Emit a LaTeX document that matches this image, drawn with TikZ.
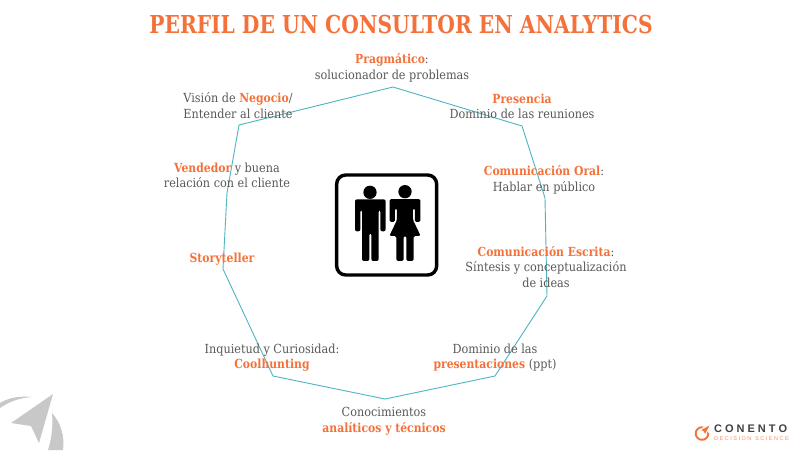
\documentclass[tikz,border=0pt]{standalone}
\usepackage{fontspec}
\setmainfont{DejaVu Serif}[FakeStretch=0.9,BoldFeatures={FakeStretch=0.865}]
\newfontfamily\ttlfont{DejaVu Serif}[FakeStretch=0.82,BoldFeatures={FakeStretch=0.82}]
\setsansfont{Liberation Sans}
\definecolor{orangetxt}{HTML}{F4723A}
\definecolor{greytxt}{HTML}{595959}
\definecolor{tealline}{HTML}{4DB5C2}
\definecolor{greyshape}{HTML}{C8C8C8}
\newcommand{\hl}[1]{\textbf{\textcolor{orangetxt}{#1}}}
\tikzset{
  lbl/.style={align=center,text=greytxt,font=\fontsize{12.5}{15.6}\selectfont,inner sep=0pt},
  ring/.style={draw=tealline,line width=0.9pt,line join=miter},
  glyph/.style={fill=black,draw=none},
}
\begin{document}
\begin{tikzpicture}[x=1pt,y=-1pt]
\useasboundingbox (0,0) rectangle (800,450);
\fill[white] (0,0) rectangle (800,450);
% background mark
\fill[greyshape] (53,394) -- (11,423) -- (31,426) -- (39,443) -- cycle;
\fill[greyshape] (0,403) .. controls (10,397) and (20,396) .. (32,397) .. controls (18,398) and (9,402) .. (0,408) -- cycle;
\fill[greyshape] (52,413) .. controls (60,422) and (65,435) .. (63,450) -- (48,450) .. controls (52,438) and (53,425) .. (52,413) -- cycle;
% ring
\coordinate (v1) at (393,87);
\coordinate (v2) at (522,126);
\coordinate (v3) at (545,198);
\coordinate (v4) at (547,296);
\coordinate (v5) at (495,376);
\coordinate (v6) at (385,399);
\coordinate (v7) at (273,376);
\coordinate (v8) at (223,269);
\coordinate (v9) at (227,193);
\coordinate (v10) at (239,125);
\draw[ring] (v1) -- (v2) -- (v3) -- (v4) -- (v5) -- (v6) -- (v7) -- (v8) -- (v9) -- (v10) -- cycle;
% title
\node[inner sep=0pt,text=orangetxt,font=\ttlfont\fontsize{24.7}{26}\bfseries\selectfont] (title) at (401,24.5) {PERFIL DE UN CONSULTOR EN ANALYTICS};
% labels
\node[lbl] (a) at (392,67.5) {\hl{Pragmático}:\\solucionador de problemas};
\node[lbl] (b) at (522,106.5) {\hl{Presencia}\\Dominio de las reuniones};
\node[lbl] (c) at (544,179.5) {\hl{Comunicación Oral}:\\Hablar en público};
\node[lbl] (d) at (546,267) {\hl{Comunicación Escrita}:\\Síntesis y conceptualización\\de ideas};
\node[lbl] (e) at (495,357.5) {Dominio de las\\\hl{presentaciones} (ppt)};
\node[lbl] (f) at (384,421) {Conocimientos\\\hl{analíticos y técnicos}};
\node[lbl] (g) at (272,357.5) {Inquietud y Curiosidad:\\\hl{Coolhunting}};
\node[lbl] (h) at (222,259) {\hl{Storyteller}};
\node[lbl] (i) at (227,175.5) {\hl{Vendedor} y buena\\relación con el cliente};
\node[lbl] (j) at (238,105.5) {Visión de \hl{Negocio}/\\Entender al cliente};
% icon
\begin{scope}[shift={(325,165)},x=0.3333pt,y=-0.3333pt]
  \draw[line width=3.4pt,rounded corners=9pt] (35,30) rectangle (335,330);
  \fill[glyph] (135,82) circle[radius=20];
  \fill[glyph,rounded corners=2pt] (90,199) -- (90,103) -- (182,103) -- (182,199) -- (166,199) -- (166,135) -- (161,135) -- (161,288) -- (139,288) -- (139,205) -- (133,205) -- (133,288) -- (111,288) -- (111,135) -- (106,135) -- (106,199) -- cycle;
  \fill[glyph] (240,80) circle[radius=20];
  \fill[glyph,rounded corners=1.5pt] (194,171) -- (194,102) -- (286,102) -- (286,171) -- (270,171) -- (270,130) -- (264,130) -- (264,165) -- (287,213) -- (266,213) -- (266,288) -- (244,288) -- (244,213) -- (236,213) -- (236,288) -- (214,288) -- (214,213) -- (193,213) -- (216,165) -- (216,130) -- (210,130) -- (210,171) -- cycle;
\end{scope}
% logo
\draw[orangetxt,line width=1.9pt] (702,433.5) circle[radius=6.3];
\fill[white] (702,427) -- (711,424) -- (709,433) -- cycle;
\fill[orangetxt] (709.5,425.5) -- (701.5,430) -- (704,431.5) -- (705,434) -- cycle;
\node[inner sep=0pt,anchor=west,font=\sffamily\fontsize{11}{12}\selectfont\bfseries,text=black!75] (logoa) at (714,429) {C\kern3pt O\kern3pt N\kern3pt E\kern3pt N\kern3pt T\kern3pt O};
\node[inner sep=0pt,anchor=west,font=\sffamily\fontsize{5.5}{6}\selectfont,text=orangetxt!80] (logob) at (714,438.5) {D\kern1.5pt E\kern1.5pt C\kern1.5pt I\kern1.5pt S\kern1.5pt I\kern1.5pt O\kern1.5pt N\kern4pt S\kern1.5pt C\kern1.5pt I\kern1.5pt E\kern1.5pt N\kern1.5pt C\kern1.5pt E};
\end{tikzpicture}
\end{document}
